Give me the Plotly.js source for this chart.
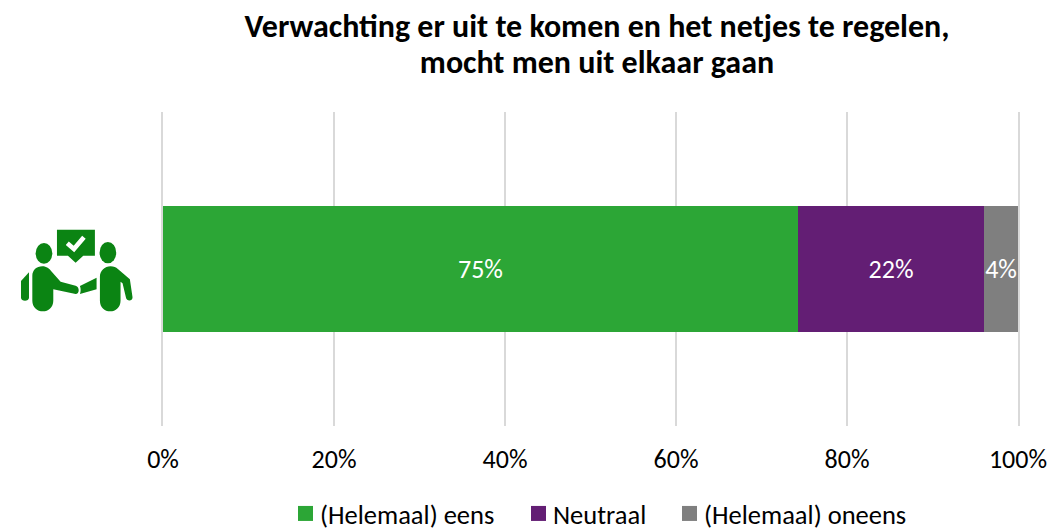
<!DOCTYPE html>
<html>
<head>
<meta charset="utf-8">
<script src="https://cdn.plot.ly/plotly-3.0.1.min.js"></script>
<style>html,body{margin:0;padding:0;background:#fff}#c{width:1064px;height:530px}</style>
</head>
<body>
<div id="c"></div>
<script>
const chartTitle = "<b>Verwachting er uit te komen en het netjes te regelen,<br>mocht men uit elkaar gaan</b>";
const category = ["Verwachting"];
const seriesNames = ["(Helemaal) eens", "Neutraal", "(Helemaal) oneens"];
const eens = [75];
const neutraal = [22];
const oneens = [4];
const seriesColors = ["#2ca636", "#631e74", "#7f7f7f"];
const tickValues = [0, 20, 40, 60, 80, 100];
const tickLabels = ["0%", "20%", "40%", "60%", "80%", "100%"];
const FONT = "Carlito, Calibri, Lato, 'Open Sans', sans-serif";

const icon = `<svg xmlns="http://www.w3.org/2000/svg" width="540" height="390" viewBox="0 0 540 390" fill="#0b8413">
<path d="M169 89H283V167H248L225 188 202 167H169Z"/>
<path d="M200 130L220 147 250 112" fill="none" stroke="#fff" stroke-width="14"/>
<ellipse cx="130" cy="160" rx="25" ry="31"/>
<ellipse cx="322" cy="158" rx="25" ry="32"/>
<path d="M125 199C138 199 146 206 152 214L180 245 225 257C238 261 237 282 225 282L158 268V302C158 322 143 334 127 334 110 334 95 322 95 302V228C95 210 108 199 125 199Z"/>
<path d="M85 217V293C85 305 61 305 61 293V243Z"/>
<path d="M238 258L288 233V268L238 282C241 274 241 266 238 258Z"/>
<path d="M330 199C340 199 346 202 352 207L388 238 396 292C396 305 378 305 376 292L366 250 360 245V302C360 322 345 334 329 334 312 334 298 322 298 302V230C298 212 313 199 330 199Z"/>
</svg>`;

const traces = [eens, neutraal, oneens].map((v, i) => ({
  type: "bar", orientation: "h", y: category, x: v, name: seriesNames[i],
  marker: {color: seriesColors[i], line: {width: 0}},
  text: v.map(n => n + "%"), textposition: "inside", insidetextanchor: "middle",
  textangle: 0, constraintext: "none", cliponaxis: false,
  textfont: {family: FONT, size: 26, color: "#ffffff"}, hoverinfo: "skip"
}));

const W = 1064, H = 530, L = 162.5, R = 1018.5, T = 112, B = 426;
const layout = {
  width: W, height: H, autosize: false,
  paper_bgcolor: "#ffffff", plot_bgcolor: "#ffffff",
  margin: {l: L, r: W - R, t: T, b: H - B, pad: 0},
  font: {family: FONT, color: "#000000", size: 26},
  barmode: "stack", barnorm: "percent", bargap: 0.6,
  title: {text: chartTitle, font: {family: FONT, size: 32, color: "#000"},
    x: 597 / W, xref: "container", xanchor: "center", y: 0.93, yref: "container", yanchor: "top"},
  xaxis: {range: [0, 100], tickvals: tickValues, ticktext: tickLabels, showgrid: true,
    gridcolor: "#d9d9d9", gridwidth: 2, zeroline: false, showline: false, ticks: "", ticklen: 0,
    automargin: false, tickfont: {family: FONT, size: 26, color: "#000"}, ticklabelstandoff: 15},
  yaxis: {showticklabels: false, showgrid: false, zeroline: false, showline: true, mirror: true,
    linecolor: "#d9d9d9", linewidth: 2, ticks: "", automargin: false, layer: "below traces"},
  showlegend: true,
  legend: {orientation: "h", x: 598 / W, xref: "container", xanchor: "center", y: 0.076, yref: "container", yanchor: "top", traceorder: "normal",
    font: {family: FONT, size: 26.5, color: "#000"}, itemclick: false, itemdoubleclick: false, itemwidth: 30,
    bgcolor: "rgba(0,0,0,0)"},
  images: [{source: "data:image/svg+xml;charset=utf-8," + encodeURIComponent(icon),
    xref: "paper", yref: "paper", xanchor: "left", yanchor: "top", sizing: "stretch", layer: "above",
    x: (0 - L) / (R - L), y: (B - 200) / (B - T), sizex: 180 / (R - L), sizey: 130 / (B - T)}]
};

// Fine-tuning the library's own title and legend elements to the reference's spacing.
const legendSwatchLeft = [298, 531, 682];
const legendSwatchGap = 22;
const legendSwatchHalf = 7.5;
const titleLineCenters = [26, 62];

Plotly.newPlot("c", traces, layout, {displayModeBar: false, staticPlot: true}).then(gd => {
  gd.querySelectorAll(".gtitle .line").forEach((el, i) => {
    el.removeAttribute("dy");
    el.setAttribute("y", 0);
    const r = el.getBoundingClientRect();
    el.setAttribute("y", titleLineCenters[i] - (r.top + r.bottom) / 2);
  });
  const s = legendSwatchHalf;
  gd.querySelectorAll(".legend .scrollbox").forEach(el => el.removeAttribute("clip-path"));
  gd.querySelectorAll(".legend").forEach(el => el.style.overflow = "visible");
  gd.querySelectorAll(".legend .traces").forEach((tr, i) => {
    const path = tr.querySelector(".legendpoints path");
    const txt = tr.querySelector("text.legendtext");
    path.setAttribute("d", `M${s},${s}H${-s}V${-s}H${s}Z`);
    const m = /translate\(([-\d.]+)[ ,]*([-\d.]+)?\)/.exec(tr.getAttribute("transform") || "");
    const tx = m ? +m[1] : 0, ty = m && m[2] ? +m[2] : 0;
    const left = path.getBoundingClientRect().left;
    tr.setAttribute("transform", `translate(${tx + legendSwatchLeft[i] - left},${ty})`);
    const pathLeft = path.getBoundingClientRect().left;
    const textLeft = txt.getBoundingClientRect().left;
    txt.setAttribute("x", +txt.getAttribute("x") + (pathLeft + legendSwatchGap - textLeft));
  });
});
</script>
</body>
</html>
